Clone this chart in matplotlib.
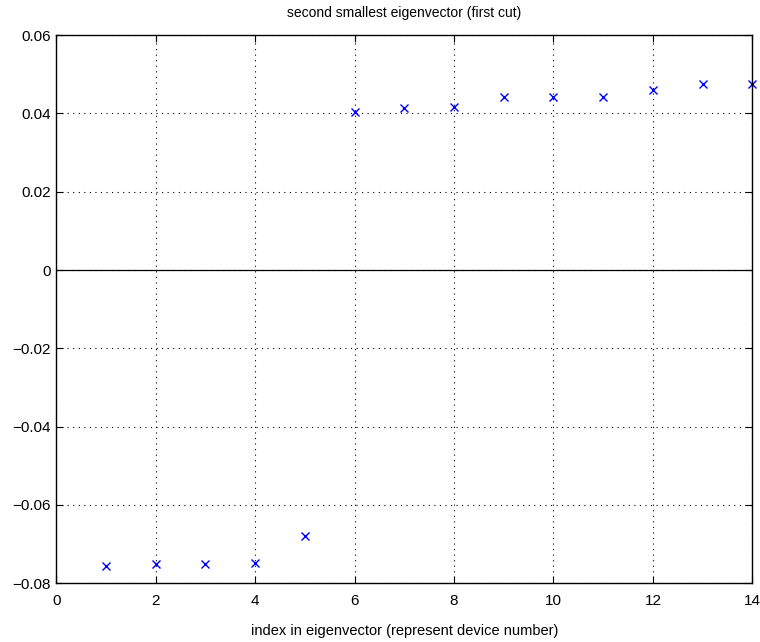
import matplotlib
matplotlib.use('Agg')
import matplotlib.pyplot as plt

plt.rcParams['font.family'] = ['Liberation Sans', 'DejaVu Sans']

# eigenvector entries
index = [1, 2, 3, 4, 5, 6, 7, 8, 9, 10, 11, 12, 13, 14]
values = [-0.0755, -0.0751, -0.0750, -0.0749, -0.0679,
          0.0404, 0.0413, 0.0416, 0.0443, 0.0443, 0.0443, 0.0459, 0.0474, 0.0474]
xticks = [0, 2, 4, 6, 8, 10, 12, 14]
yticks = [-0.08, -0.06, -0.04, -0.02, 0, 0.02, 0.04, 0.06]

fig = plt.figure(figsize=(7.6, 6.42), dpi=100)
ax = fig.add_axes([0.074, 0.0914, 0.916, 0.854])

ax.plot(index, values, 'x', color='blue', markersize=6, markeredgewidth=1.0, clip_on=False)
ax.axhline(0, color='black', lw=0.9)

ax.set_xlim(0, 14)
ax.set_ylim(-0.08, 0.06)
ax.set_xticks(xticks)
ax.set_yticks(yticks)
ax.set_xticklabels([str(t) for t in xticks])
ax.set_yticklabels(['\u22120.08', '\u22120.06', '\u22120.04', '\u22120.02', '0', '0.02', '0.04', '0.06'])
ax.tick_params(direction='in', length=5, labelsize=11, top=True, right=True)
ax.tick_params(axis='x', pad=8)
ax.tick_params(axis='y', pad=4)
ax.grid(True, linestyle=(0, (1, 4)), color='black', lw=0.8)
for s in ax.spines.values():
    s.set_linewidth(1.0)

ax.set_title('second smallest eigenvector (first cut)', fontsize=10, pad=13)
ax.set_xlabel('index in eigenvector (represent device number)', fontsize=10.5, labelpad=11)

fig.savefig('out.png', dpi=100)
